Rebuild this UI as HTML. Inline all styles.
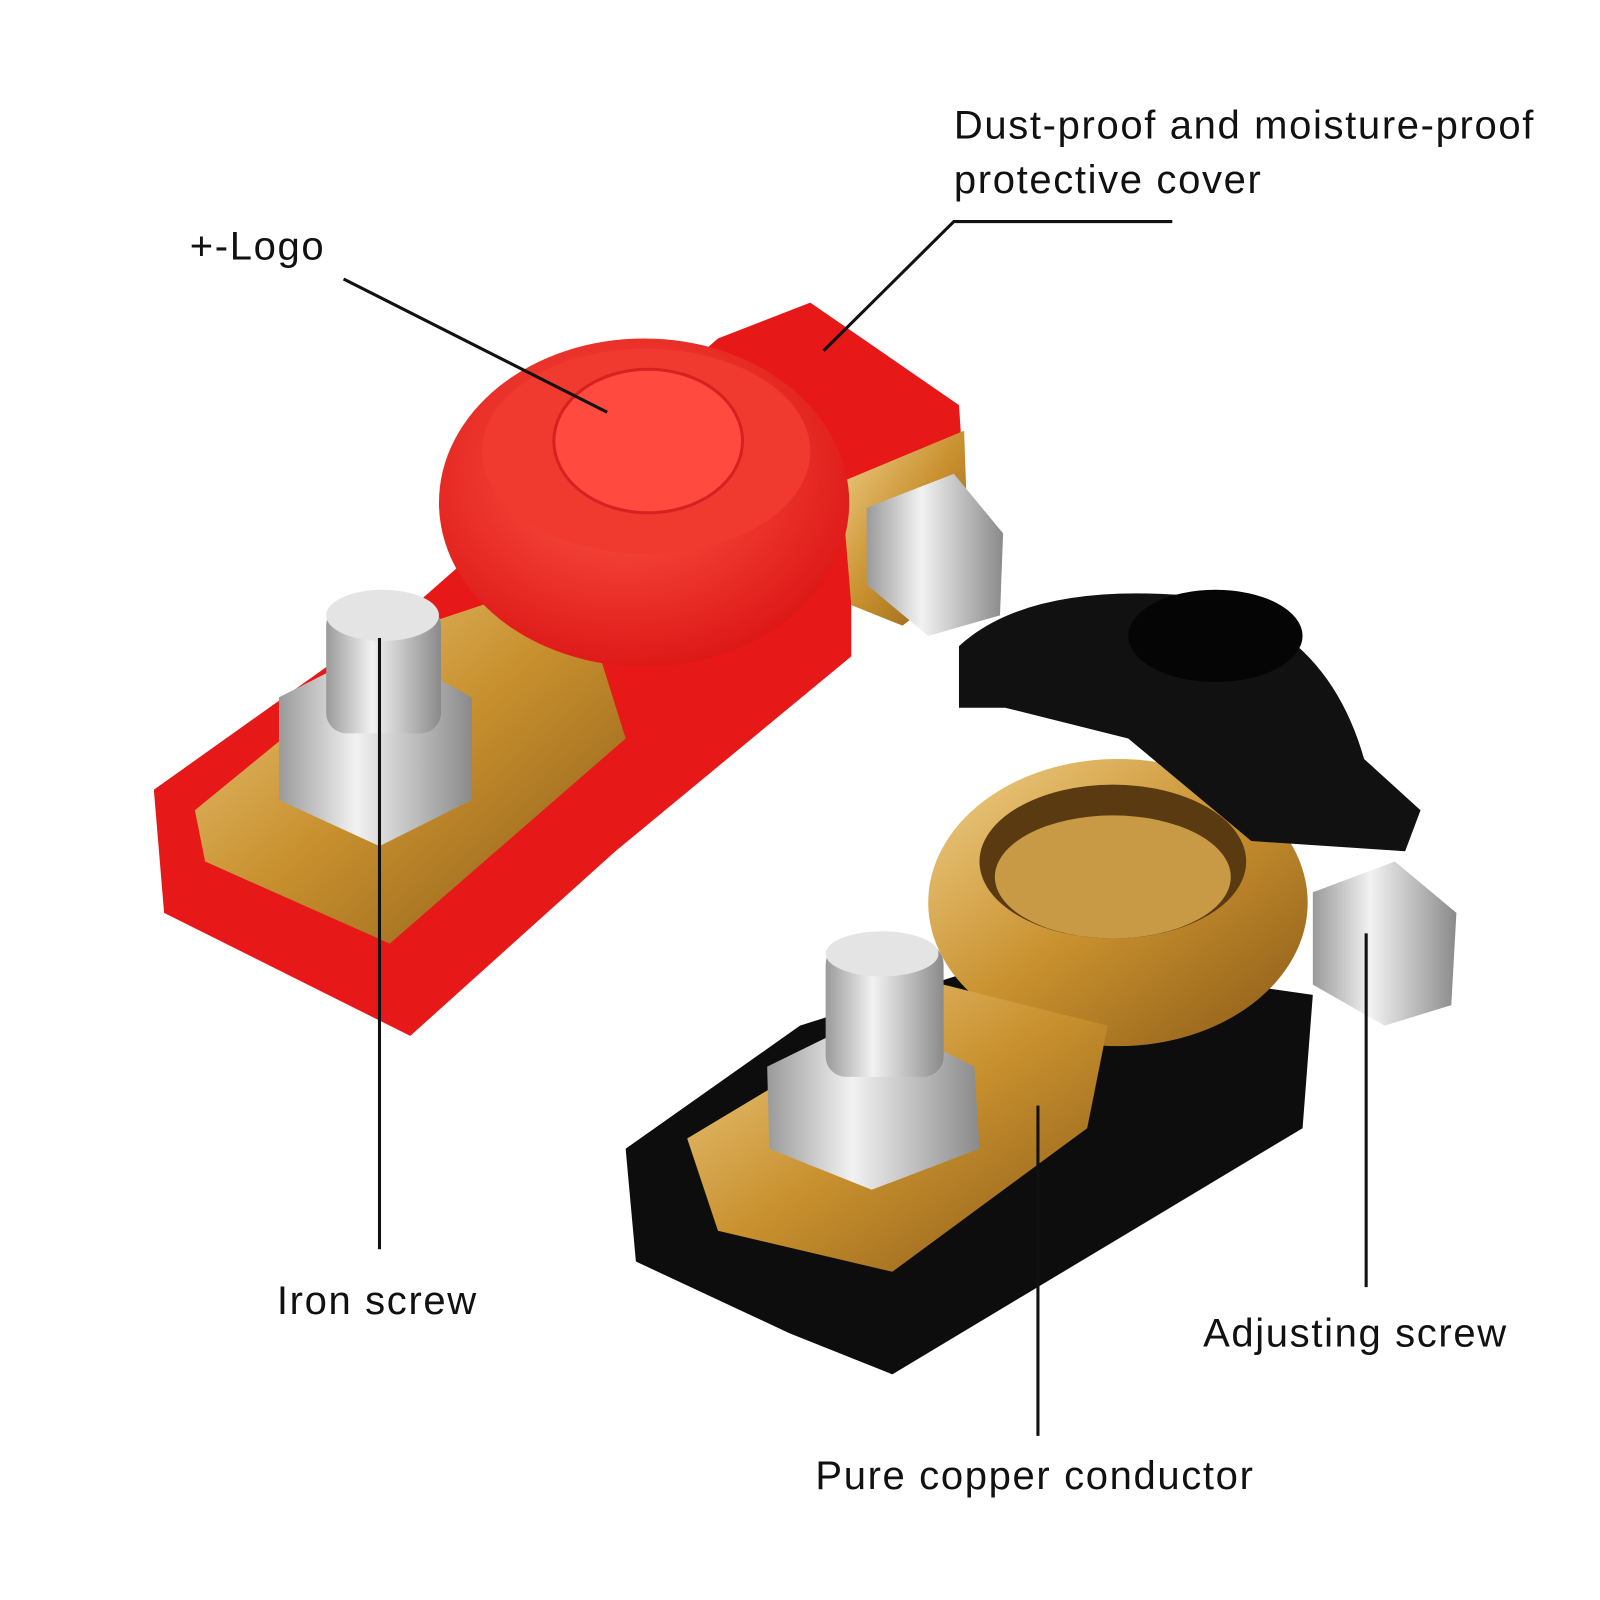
<!DOCTYPE html>
<html><head><meta charset="utf-8"><style>
html,body{margin:0;padding:0;background:#fff;}
svg{display:block}
text{font-family:"Liberation Sans",sans-serif;fill:#111;font-size:39px;letter-spacing:1.6px}
</style></head><body>
<svg width="1600" height="1600" viewBox="0 0 1560 1560" xmlns="http://www.w3.org/2000/svg">
<defs>
<linearGradient id="gold" x1="0" y1="0" x2="1" y2="1"><stop offset="0" stop-color="#f0d08a"/><stop offset="0.5" stop-color="#c8902e"/><stop offset="1" stop-color="#8a5a18"/></linearGradient>
<linearGradient id="silver" x1="0" y1="0" x2="1" y2="0"><stop offset="0" stop-color="#9a9a9a"/><stop offset="0.4" stop-color="#f2f2f2"/><stop offset="1" stop-color="#8a8a8a"/></linearGradient>
<radialGradient id="red" cx="0.45" cy="0.4" r="0.7"><stop offset="0" stop-color="#ff5a4a"/><stop offset="1" stop-color="#d80f0f"/></radialGradient>
</defs>
<!-- red terminal -->
<polygon points="150,770 410,585 700,330 790,295 935,395 940,470 830,560 830,640 600,830 400,1010 300,960 160,890" fill="#e61818"/>
<polygon points="190,790 410,610 560,560 610,720 380,920 200,840" fill="url(#gold)"/>
<polygon points="820,470 940,420 945,560 880,610 830,590" fill="url(#gold)"/>
<ellipse cx="628" cy="490" rx="200" ry="160" fill="url(#red)"/>
<ellipse cx="630" cy="440" rx="160" ry="100" fill="#f03a30"/>
<ellipse cx="632" cy="430" rx="92" ry="70" fill="#ff4a40" stroke="#d82020" stroke-width="3"/>
<polygon points="845,495 930,462 978,520 975,600 905,620 845,570" fill="url(#silver)"/>
<polygon points="370,630 460,680 460,780 370,825 272,780 272,680" fill="url(#silver)"/>
<rect x="318" y="590" width="112" height="125" rx="20" fill="url(#silver)"/>
<ellipse cx="373" cy="600" rx="55" ry="25" fill="#e4e4e4"/>
<!-- black terminal -->
<polygon points="610,1120 780,1000 1000,930 1280,970 1270,1100 870,1340 770,1300 620,1230" fill="#0d0d0d"/>
<ellipse cx="1090" cy="880" rx="185" ry="140" fill="url(#gold)"/>
<ellipse cx="1085" cy="840" rx="130" ry="75" fill="#5a3a10"/>
<ellipse cx="1085" cy="855" rx="115" ry="60" fill="#c99a45"/>
<polygon points="670,1110 920,960 1080,1000 1060,1100 870,1240 700,1200" fill="url(#gold)"/>
<path d="M935,630 Q1000,570 1150,580 Q1290,600 1330,740 L1385,790 L1370,830 L1220,820 L1100,720 L980,690 L935,690 Z" fill="#111"/>
<ellipse cx="1185" cy="620" rx="85" ry="45" fill="#050505"/>
<polygon points="1280,870 1360,840 1420,890 1415,980 1350,1000 1280,960" fill="url(#silver)"/>
<polygon points="850,990 950,1040 955,1120 850,1160 750,1120 748,1040" fill="url(#silver)"/>
<rect x="805" y="920" width="115" height="130" rx="20" fill="url(#silver)"/>
<ellipse cx="860" cy="930" rx="55" ry="22" fill="#e4e4e4"/>
<!-- leader lines -->
<g stroke="#111" stroke-width="3" fill="none">
<line x1="335" y1="272" x2="592" y2="402"/>
<polyline points="1143,216 930,216 803,342"/>
<line x1="370" y1="622" x2="370" y2="1218"/>
<line x1="1012" y1="1078" x2="1012" y2="1400"/>
<line x1="1332" y1="910" x2="1332" y2="1255"/>
</g>
<text x="185" y="253">+-Logo</text>
<text x="930" y="135">Dust-proof and moisture-proof</text>
<text x="930" y="188">protective cover</text>
<text x="270" y="1281">Iron screw</text>
<text x="1173" y="1313">Adjusting screw</text>
<text x="795" y="1452">Pure copper conductor</text>
</svg>
</body></html>
